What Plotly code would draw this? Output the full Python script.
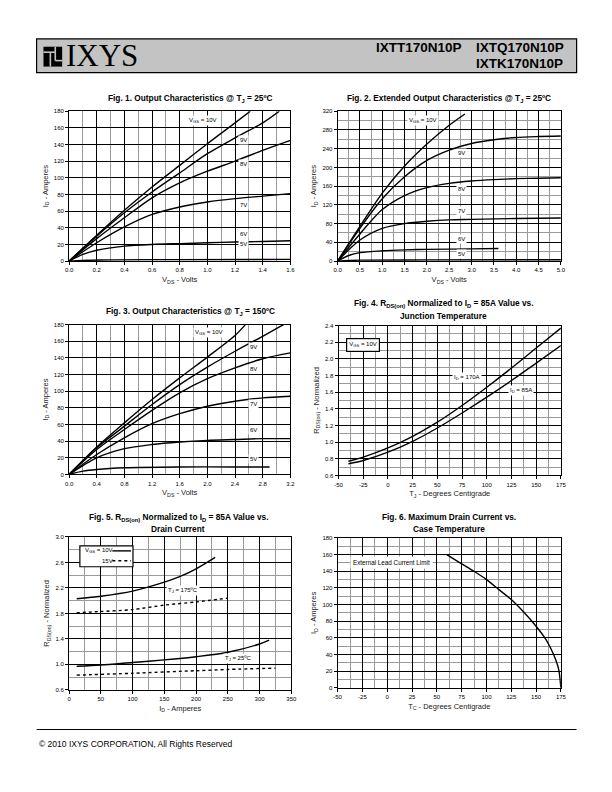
import plotly.graph_objects as go

# ---- data ----
# Fig 1: output characteristics @ Tj = 25C
f1_10v_x = [0, 0.2, 0.4, 0.6, 0.8, 1.0, 1.2, 1.31]
f1_10v_y = [0, 31, 61, 89, 115, 141, 166, 180]
f1_9v_x = [0, 0.2, 0.4, 0.6, 0.8, 1.0, 1.2, 1.4, 1.52]
f1_9v_y = [0, 30, 58, 83, 106, 129, 148, 166, 180]
f1_8v_x = [0, 0.2, 0.4, 0.6, 0.8, 1.0, 1.2, 1.4, 1.6]
f1_8v_y = [0, 27, 52, 76, 94, 108, 120, 133, 145]
f1_7v_x = [0, 0.2, 0.4, 0.6, 0.8, 1.0, 1.2, 1.4, 1.6]
f1_7v_y = [0, 22, 41, 56, 65, 71, 75, 78, 81]
f1_6v_x = [0, 0.1, 0.2, 0.4, 0.6, 0.8, 1.0, 1.2, 1.4, 1.6]
f1_6v_y = [0, 8, 13, 18, 20, 21, 22, 23, 23.5, 24.5]
f1_5v_x = [0, 0.1, 0.3, 0.8, 1.6]
f1_5v_y = [0, 0.8, 1.5, 1.8, 2.0]

# Fig 2: extended output characteristics @ Tj = 25C
f2_10v_x = [0, 0.5, 1.0, 1.5, 2.0, 2.5, 2.85]
f2_10v_y = [0, 74, 145, 203, 250, 290, 314]
f2_9v_x = [0, 0.5, 1.0, 1.5, 2.0, 2.5, 3.0, 3.5, 4.0, 4.5, 5.0]
f2_9v_y = [0, 70, 133, 180, 215, 237, 251, 259, 264, 266, 267]
f2_8v_x = [0, 0.5, 1.0, 1.5, 2.0, 2.5, 3.0, 3.5, 4.0, 4.5, 5.0]
f2_8v_y = [0, 58, 110, 140, 157, 166, 171, 174, 176, 177, 178]
f2_7v_x = [0, 0.5, 1.0, 1.5, 2.0, 2.5, 3.0, 4.0, 5.0]
f2_7v_y = [0, 45, 70, 80, 85, 88, 89, 91, 92]
f2_6v_x = [0, 0.25, 0.5, 1.0, 1.5, 2.0, 3.0, 3.6]
f2_6v_y = [0, 12, 18, 22, 24, 25, 26, 27]
f2_5v_x = [0, 0.5, 2.0, 5.0]
f2_5v_y = [0, 2, 2.5, 3]

# Fig 3: output characteristics @ Tj = 150C
f3_10v_x = [0, 0.4, 0.8, 1.2, 1.6, 2.0, 2.4, 2.55]
f3_10v_y = [0, 33, 62, 90, 116, 141, 167, 180]
f3_9v_x = [0, 0.4, 0.8, 1.2, 1.6, 2.0, 2.4, 2.8, 3.1]
f3_9v_y = [0, 32, 58, 84, 108, 129, 148, 166, 180]
f3_8v_x = [0, 0.4, 0.8, 1.2, 1.6, 2.0, 2.4, 2.8, 3.2]
f3_8v_y = [0, 30, 54, 77, 98, 115, 128, 139, 146]
f3_7v_x = [0, 0.4, 0.8, 1.2, 1.6, 2.0, 2.4, 2.8, 3.2]
f3_7v_y = [0, 24, 44, 61, 73, 82, 88, 92, 94]
f3_6v_x = [0, 0.4, 0.8, 1.2, 1.6, 2.0, 2.4, 2.8, 3.2]
f3_6v_y = [0, 20, 31, 36, 39, 41, 42, 43, 43]
f3_5v_x = [0, 0.2, 0.4, 0.8, 1.6, 2.4, 2.9]
f3_5v_y = [0, 4, 6, 8, 9, 9, 9]

# Fig 4: Rds(on) normalized vs junction temperature
f4_tj = [-40, -25, 0, 25, 50, 75, 100, 125, 150, 175]
f4_170a = [0.77, 0.82, 0.93, 1.07, 1.24, 1.44, 1.66, 1.89, 2.13, 2.37]
f4_85a = [0.74, 0.78, 0.88, 1.01, 1.17, 1.35, 1.54, 1.74, 1.95, 2.16]

# Fig 5: Rds(on) normalized vs drain current
f5_175_10v_x = [12, 50, 100, 150, 175, 200, 230]
f5_175_10v_y = [2.03, 2.07, 2.15, 2.29, 2.38, 2.50, 2.68]
f5_175_15v_x = [12, 50, 100, 150, 200, 250]
f5_175_15v_y = [1.81, 1.83, 1.86, 1.93, 1.98, 2.04]
f5_25_10v_x = [12, 50, 100, 150, 200, 250, 300, 315]
f5_25_10v_y = [0.97, 0.99, 1.03, 1.07, 1.12, 1.19, 1.32, 1.38]
f5_25_15v_x = [12, 100, 200, 250, 325]
f5_25_15v_y = [0.83, 0.86, 0.90, 0.92, 0.94]

# Fig 6: max drain current vs case temperature
f6_tc = [60, 75, 87.5, 100, 112.5, 125, 137.5, 150, 160, 165, 170, 173, 175]
f6_id = [160, 149, 140, 130, 118, 106, 91, 74, 58, 47, 33, 21, 0]

# temperature axis tick labels (plain hyphen minus as in the datasheet)
temp_ticks = [-50, -25, 0, 25, 50, 75, 100, 125, 150, 175]
temp_labels = ["-50", "-25", "0", "25", "50", "75", "100", "125", "150", "175"]

W, H = 612, 792
OFF = 8  # page body margin
SANS = "Liberation Sans, Arial, sans-serif"


def px(x):
    return (x - OFF) / W


def py(y):
    return 1 - (y - OFF) / H


def axis(dom, rng, dtick, minor=None, fmt=None, title=None, anchor=None, tick0=0):
    d = dict(domain=dom, range=rng, dtick=dtick, tick0=tick0, showgrid=True,
             gridcolor="black", gridwidth=1, showline=True, linecolor="black",
             linewidth=1, mirror=True, ticks="outside", ticklen=3, tickwidth=1,
             tickcolor="black", tickfont=dict(family=SANS, size=6, color="black"),
             zeroline=False, anchor=anchor, fixedrange=True)
    if fmt:
        d["tickformat"] = fmt
    if minor:
        d["minor"] = dict(dtick=minor, tick0=tick0, showgrid=True, gridcolor="#9a9a9a",
                          gridwidth=1, ticks="")
    if title:
        d["title"] = dict(text=title, font=dict(family=SANS, size=7.5, color="#222"),
                          standoff=4)
    return d


fig = go.Figure()


def curve(x, y, ax, dash="solid"):
    fig.add_trace(go.Scatter(x=x, y=y, mode="lines", xaxis=ax[0], yaxis=ax[1],
                             line=dict(color="black", width=1.4, dash=dash,
                                       shape="spline", smoothing=0.8),
                             hoverinfo="skip", showlegend=False))


A1, A2, A3, A4, A5, A6 = ("x", "y"), ("x2", "y2"), ("x3", "y3"), ("x4", "y4"), ("x5", "y5"), ("x6", "y6")

for xs, ys in [(f1_10v_x, f1_10v_y), (f1_9v_x, f1_9v_y), (f1_8v_x, f1_8v_y),
               (f1_7v_x, f1_7v_y), (f1_6v_x, f1_6v_y), (f1_5v_x, f1_5v_y)]:
    curve(xs, ys, A1)
for xs, ys in [(f2_10v_x, f2_10v_y), (f2_9v_x, f2_9v_y), (f2_8v_x, f2_8v_y),
               (f2_7v_x, f2_7v_y), (f2_6v_x, f2_6v_y), (f2_5v_x, f2_5v_y)]:
    curve(xs, ys, A2)
for xs, ys in [(f3_10v_x, f3_10v_y), (f3_9v_x, f3_9v_y), (f3_8v_x, f3_8v_y),
               (f3_7v_x, f3_7v_y), (f3_6v_x, f3_6v_y), (f3_5v_x, f3_5v_y)]:
    curve(xs, ys, A3)
curve(f4_tj, f4_170a, A4)
curve(f4_tj, f4_85a, A4)
curve(f5_175_10v_x, f5_175_10v_y, A5)
curve(f5_175_15v_x, f5_175_15v_y, A5, dash="3px,3px")
curve(f5_25_10v_x, f5_25_10v_y, A5)
curve(f5_25_15v_x, f5_25_15v_y, A5, dash="3px,3px")
curve(f6_tc, f6_id, A6)

ID = "I<sub>D</sub> - Amperes"
VDS = "V<sub>DS</sub> - Volts"
x4 = axis([px(340), px(566)], [-50, 175], 25, 12.5, None, "T<sub>J</sub> - Degrees Centigrade", "y4")
x4.update(tickmode="array", tickvals=temp_ticks, ticktext=temp_labels)
x6 = axis([px(339), px(566)], [-50, 175], 25, 12.5, None, "T<sub>C</sub> - Degrees Centigrade", "y6")
x6.update(tickmode="array", tickvals=temp_ticks, ticktext=temp_labels)

fig.update_layout(
    width=W, height=H, margin=dict(l=0, r=0, t=0, b=0),
    paper_bgcolor="white", plot_bgcolor="white", showlegend=False,
    xaxis=axis([px(66), px(291)], [0, 1.6], 0.2, 0.1, ".1f", VDS, "y"),
    yaxis=axis([py(260), py(109)], [0, 180], 20, None, None, ID, "x"),
    xaxis2=axis([px(339), px(566)], [0, 5], 0.5, 0.25, ".1f", VDS, "y2"),
    yaxis2=axis([py(260), py(109)], [0, 320], 40, 20, None, ID, "x2"),
    xaxis3=axis([px(66), px(291)], [0, 3.2], 0.4, 0.2, ".1f", VDS, "y3"),
    yaxis3=axis([py(475), py(324)], [0, 180], 20, None, None, ID, "x3"),
    xaxis4=x4,
    yaxis4=axis([py(476), py(325)], [0.6, 2.4], 0.2, 0.1, ".1f",
                "R<sub>DS(on)</sub> - Normalized", "x4"),
    xaxis5=axis([px(66), px(292)], [0, 350], 50, 25, None, ID, "y5"),
    yaxis5=axis([py(692), py(538)], [0.6, 3.0], 0.4, 0.2, ".1f",
                "R<sub>DS(on)</sub> - Normalized", "x5", tick0=0.6),
    xaxis6=x6,
    yaxis6=axis([py(690), py(539)], [0, 180], 20, 10, None, ID, "x6"),
)

ann = []


def label(text, x, y, ax, size=6, **kw):
    d = dict(text=text, x=x, y=y, xref=ax[0], yref=ax[1], showarrow=False,
             font=dict(family=SANS, size=size, color="black"), bgcolor="white",
             borderpad=1)
    d.update(kw)
    ann.append(d)


# curve labels
label("V<sub>GS</sub> = 10V", 0.97, 169, A1)
for t, yy in [("9V", 145), ("8V", 117), ("7V", 67), ("6V", 33), ("5V", 20)]:
    label(t, 1.26, yy, A1)
label("V<sub>GS</sub> = 10V", 1.91, 301, A2)
for t, yy in [("9V", 231), ("8V", 155), ("7V", 108), ("6V", 47), ("5V", 16)]:
    label(t, 2.78, yy, A2)
label("V<sub>GS</sub> = 10V", 2.03, 170, A3)
for t, yy in [("9V", 153), ("8V", 127), ("7V", 85), ("6V", 53), ("5V", 18)]:
    label(t, 2.67, yy, A3)
label("I<sub>D</sub> = 170A", 80, 1.78, A4)
label("I<sub>D</sub> = 85A", 135, 1.62, A4)
label("V<sub>GS</sub> = 10V", -25, 2.17, A4, bordercolor="black", borderwidth=1.2,
      borderpad=2)
label("T<sub>J</sub> = 175ºC", 179, 2.16, A5)
label("T<sub>J</sub> = 25ºC", 266, 1.085, A5)
label("External Lead Current Limit", 4, 150, A6, size=6.3, borderpad=2)


def paper_text(text, x, y, size, family=SANS, xanchor="center", **kw):
    d = dict(text=text, x=px(x), y=py(y), xref="paper", yref="paper", showarrow=False,
             xanchor=xanchor, yanchor="middle", font=dict(family=family, size=size, color="black"))
    d.update(kw)
    ann.append(d)


TS = 8.3
paper_text("<b>Fig. 1. Output Characteristics @ T<sub>J</sub> = 25ºC</b>", 189, 96, TS)
paper_text("<b>Fig. 2. Extended Output Characteristics @ T<sub>J</sub> = 25ºC</b>", 452, 96, TS)
paper_text("<b>Fig. 3. Output Characteristics @ T<sub>J</sub> = 150ºC</b>", 189, 311, TS)
paper_text("<b>Fig. 4. R<sub>DS(on)</sub> Normalized to I<sub>D</sub> = 85A Value vs.</b>", 447, 303, TS)
paper_text("<b>Junction Temperature</b>", 447, 315, TS)
paper_text("<b>Fig. 5. R<sub>DS(on)</sub> Normalized to I<sub>D</sub> = 85A Value vs.</b>", 177, 518, TS)
paper_text("<b>Drain Current</b>", 177, 530, TS)
paper_text("<b>Fig. 6. Maximum Drain Current vs.</b>", 452, 518, TS)
paper_text("<b>Case Temperature</b>", 452, 530, TS)

# fig 5 legend
paper_text("V<sub>GS</sub> = 10V", 80, 552, 6, xanchor="left")
paper_text("15V", 97, 562, 6, xanchor="left")

# header text
paper_text("IXYS", 61, 53, 31, family="Liberation Serif, Times New Roman, serif",
           xanchor="left")
paper_text("<b>IXTT170N10P</b>", 468, 45, 13.5, xanchor="right")
paper_text("<b>IXTQ170N10P</b>", 478, 45, 13.5, xanchor="left")
paper_text("<b>IXTK170N10P</b>", 478, 61, 13.5, xanchor="left")
paper_text("© 2010 IXYS CORPORATION, All Rights Reserved", 33, 747, 8.5, xanchor="left")

shapes = [
    # header bar
    dict(type="rect", xref="paper", yref="paper", x0=px(33), x1=px(582), y0=py(70), y1=py(36),
         fillcolor="#c3c3c3", line=dict(color="black", width=1.2), layer="below"),
    # logo mark
    dict(type="rect", xref="paper", yref="paper", x0=px(40), x1=px(59), y0=py(64), y1=py(44),
         fillcolor="black", line=dict(width=0)),
    dict(type="line", xref="paper", yref="paper", x0=px(40), x1=px(52), y0=py(49.5), y1=py(49.5),
         line=dict(color="#c3c3c3", width=1.6)),
    dict(type="line", xref="paper", yref="paper", x0=px(47), x1=px(47), y0=py(49.5), y1=py(64),
         line=dict(color="#c3c3c3", width=1.6)),
    dict(type="line", xref="paper", yref="paper", x0=px(52), x1=px(52), y0=py(44), y1=py(58),
         line=dict(color="#c3c3c3", width=1.6)),
    dict(type="line", xref="paper", yref="paper", x0=px(52), x1=px(59), y0=py(58), y1=py(58),
         line=dict(color="#c3c3c3", width=1.6)),
    # footer rule
    dict(type="line", xref="paper", yref="paper", x0=px(33), x1=px(582), y0=py(732), y1=py(732),
         line=dict(color="black", width=1)),
    # fig 5 legend box and samples
    dict(type="rect", xref="paper", yref="paper", x0=px(77), x1=px(131), y0=py(568), y1=py(547),
         fillcolor="white", line=dict(color="black", width=1.2)),
    dict(type="line", xref="paper", yref="paper", x0=px(110), x1=px(129), y0=py(552), y1=py(552),
         line=dict(color="black", width=1.4)),
    dict(type="line", xref="paper", yref="paper", x0=px(110), x1=px(129), y0=py(562), y1=py(562),
         line=dict(color="black", width=1.4, dash="3px,3px")),
]

fig.update_layout(annotations=ann, shapes=shapes)
fig.write_html("out.html")
